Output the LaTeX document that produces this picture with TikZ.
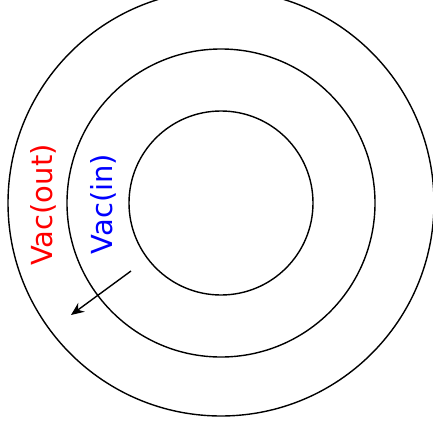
\documentclass[tikz,border=0pt]{standalone}
\usepackage{fontspec}
\setmainfont{DejaVu Sans}
\usepackage{xcolor}
\usetikzlibrary{arrows.meta}

\begin{document}
\begin{tikzpicture}[x=1pt,y=-1pt,>={Stealth[length=13pt,width=11pt]},every node/.style={font=\fontsize{29}{33}\selectfont}]
\tikzstyle{ring}=[circle,draw,line width=1.4pt,inner sep=0pt]
\useasboundingbox (0,0) rectangle (433,439);
\coordinate (c) at (221,203);
\foreach \n/\d in {inner/184,middle/308,outer/426}{\node[ring,minimum size=\d pt] (\n) at (c) {};}
\node[rotate=90,text=red] (vacout) at (43,205) {Vac(out)};
\node[rotate=90,text=blue] (vacin) at (103,204) {Vac(in)};
\coordinate (a) at (131,271);
\coordinate (b) at (71,315);
\draw[->,line width=1.4pt] (a) -- (b);
\end{tikzpicture}
\end{document}
